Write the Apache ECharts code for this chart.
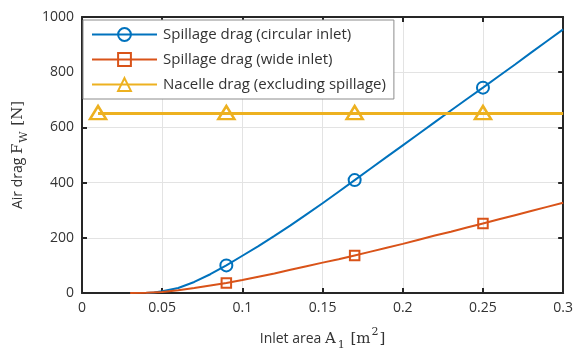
<!DOCTYPE html>
<html>
<head>
<meta charset="utf-8">
<script src="https://cdn.jsdelivr.net/npm/echarts@6/dist/echarts.min.js"></script>
<style>html,body{margin:0;padding:0;background:#fff;}#c{width:576px;height:357px;}</style>
</head>
<body>
<div id="c"></div>
<script>
// ---- data ----
const seriesNames = ['Spillage drag (circular inlet)', 'Spillage drag (wide inlet)', 'Nacelle drag (excluding spillage)'];
const circX = [0.04, 0.045, 0.05, 0.06, 0.07, 0.08, 0.09, 0.10, 0.11, 0.12, 0.13, 0.14, 0.15, 0.16, 0.17, 0.18, 0.19, 0.20, 0.21, 0.22, 0.23, 0.24, 0.25, 0.26, 0.27, 0.28, 0.29, 0.30];
const circY = [0, 2, 6, 18, 40, 68, 100, 135, 170, 207, 245, 285, 325, 367, 409, 451, 493, 535, 577, 619, 661, 703, 744, 786, 828, 871, 913, 955];
const wideX = [0.03, 0.04, 0.05, 0.06, 0.07, 0.08, 0.09, 0.10, 0.11, 0.12, 0.13, 0.14, 0.15, 0.16, 0.17, 0.18, 0.19, 0.20, 0.21, 0.22, 0.23, 0.24, 0.25, 0.26, 0.27, 0.28, 0.29, 0.30];
const wideY = [0, 1, 4, 10, 18, 27, 36, 47, 59, 71, 84, 97, 110, 122, 136, 150, 164, 178, 193, 208, 222, 237, 252, 267, 282, 297, 312, 327];
const nacX = [0.01, 0.09, 0.17, 0.25, 0.30];
const nacY = [650, 650, 650, 650, 650];
const circMarkX = [0.09, 0.17, 0.25];
const wideMarkX = [0.09, 0.17, 0.25];
const nacMarkX = [0.01, 0.09, 0.17, 0.25];
const xTicks = [0, 0.05, 0.1, 0.15, 0.2, 0.25, 0.3];
const yTicks = [0, 200, 400, 600, 800, 1000];

const colors = ['#0072BD', '#D95319', '#EDB120'];
const FONT = 'Open Sans';

function build(xs, ys, marks) {
  return xs.map((x, i) => {
    const isMark = marks.some(m => Math.abs(m - x) < 1e-9);
    return isMark ? { value: [x, ys[i]] } : { value: [x, ys[i]], symbol: 'none' };
  });
}

const chart = echarts.init(document.getElementById('c'), null, { renderer: 'canvas' });
const axisCol = '#262626';
const labelCol = '#333333';

const xBase = {
  type: 'value', min: 0, max: 0.3, interval: 0.05,
  axisLine: { show: true, onZero: false, lineStyle: { color: axisCol, width: 2 } },
  axisTick: { show: true, inside: true, length: 5, lineStyle: { color: axisCol, width: 2 } },
};
const yBase = {
  type: 'value', min: 0, max: 1000, interval: 200,
  axisLine: { show: true, onZero: false, lineStyle: { color: axisCol, width: 2 } },
  axisTick: { show: true, inside: true, length: 5, lineStyle: { color: axisCol, width: 2 } },
};

chart.setOption({
  animation: false,
  backgroundColor: '#fff',
  grid: { left: 82, right: 10, top: 17, bottom: 64, containLabel: false },
  legend: {
    left: 83, top: 20, orient: 'vertical',
    data: seriesNames,
    itemWidth: 65, itemHeight: 16, itemGap: 10,
    padding: [7, 8, 7, 8],
    backgroundColor: '#fff', borderColor: '#8c8c8c', borderWidth: 1, borderRadius: 0,
    textStyle: { fontFamily: FONT, fontSize: 15, color: labelCol, padding: [0, 0, 0, 1] },
  },
  xAxis: [
    Object.assign({}, xBase, {
      position: 'bottom',
      axisLabel: { show: true, fontFamily: FONT, fontSize: 14, color: labelCol, margin: 8,
        formatter: v => { const t = xTicks.find(k => Math.abs(k - v) < 1e-9); return t === undefined ? '' : String(t); } },
      splitLine: { show: true, lineStyle: { color: '#e3e3e3', width: 1 } },
      name: '{n|Inlet area }{s|A}{sub|1}{n| }{s|[m}{sup|2}{s|]}',
      nameLocation: 'middle', nameGap: 34,
      nameTextStyle: {
        color: labelCol,
        rich: {
          n: { fontFamily: FONT, fontSize: 14, color: labelCol, verticalAlign: 'middle', lineHeight: 24 },
          s: { fontFamily: 'DejaVu Serif', fontSize: 15, color: labelCol, verticalAlign: 'middle', lineHeight: 24 },
          sub: { fontFamily: 'DejaVu Serif', fontSize: 11, color: labelCol, verticalAlign: 'bottom', lineHeight: 24, padding: [0, 2, 0, 2] },
          sup: { fontFamily: 'DejaVu Serif', fontSize: 11, color: labelCol, verticalAlign: 'top', lineHeight: 24, padding: [0, 1, 0, 1] },
        }
      }
    }),
    Object.assign({}, xBase, { position: 'top', axisLabel: { show: false }, splitLine: { show: false } })
  ],
  yAxis: [
    Object.assign({}, yBase, {
      position: 'left',
      axisLabel: { show: true, fontFamily: FONT, fontSize: 14, color: labelCol, margin: 8,
        formatter: v => { const t = yTicks.find(k => k === v); return t === undefined ? '' : String(t); } },
      splitLine: { show: true, lineStyle: { color: '#e3e3e3', width: 1 } },
      name: '{n|Air drag }{s|F}{sub|W}{n| }{s|[N]}',
      nameLocation: 'middle', nameGap: 52,
      nameTextStyle: {
        color: labelCol,
        rich: {
          n: { fontFamily: FONT, fontSize: 14, color: labelCol, verticalAlign: 'middle', lineHeight: 24 },
          s: { fontFamily: 'DejaVu Serif', fontSize: 15, color: labelCol, verticalAlign: 'middle', lineHeight: 24 },
          sub: { fontFamily: 'DejaVu Serif', fontSize: 11, color: labelCol, verticalAlign: 'bottom', lineHeight: 24, padding: [0, 2, 0, 1] },
        }
      }
    }),
    Object.assign({}, yBase, { position: 'right', axisLabel: { show: false }, splitLine: { show: false } })
  ],
  series: [
    {
      name: seriesNames[0], type: 'line', xAxisIndex: 0, yAxisIndex: 0,
      data: build(circX, circY, circMarkX), smooth: false, showAllSymbol: true,
      symbol: 'circle', symbolSize: 12,
      lineStyle: { color: colors[0], width: 2 },
      itemStyle: { color: 'rgba(255,255,255,0)', borderColor: colors[0], borderWidth: 2 },
      z: 3
    },
    {
      name: seriesNames[1], type: 'line', xAxisIndex: 0, yAxisIndex: 0,
      data: build(wideX, wideY, wideMarkX), smooth: false, showAllSymbol: true,
      symbol: 'rect', symbolSize: 9.5,
      lineStyle: { color: colors[1], width: 2 },
      itemStyle: { color: 'rgba(255,255,255,0)', borderColor: colors[1], borderWidth: 2 },
      z: 3
    },
    {
      name: seriesNames[2], type: 'line', xAxisIndex: 0, yAxisIndex: 0,
      data: build(nacX, nacY, nacMarkX), smooth: false, showAllSymbol: true,
      symbol: 'triangle', symbolSize: [16, 13], symbolOffset: [0, -1],
      lineStyle: { color: colors[2], width: 3 },
      itemStyle: { color: 'rgba(255,255,255,0)', borderColor: colors[2], borderWidth: 2.5 },
      z: 3
    }
  ]
});
</script>
</body>
</html>
